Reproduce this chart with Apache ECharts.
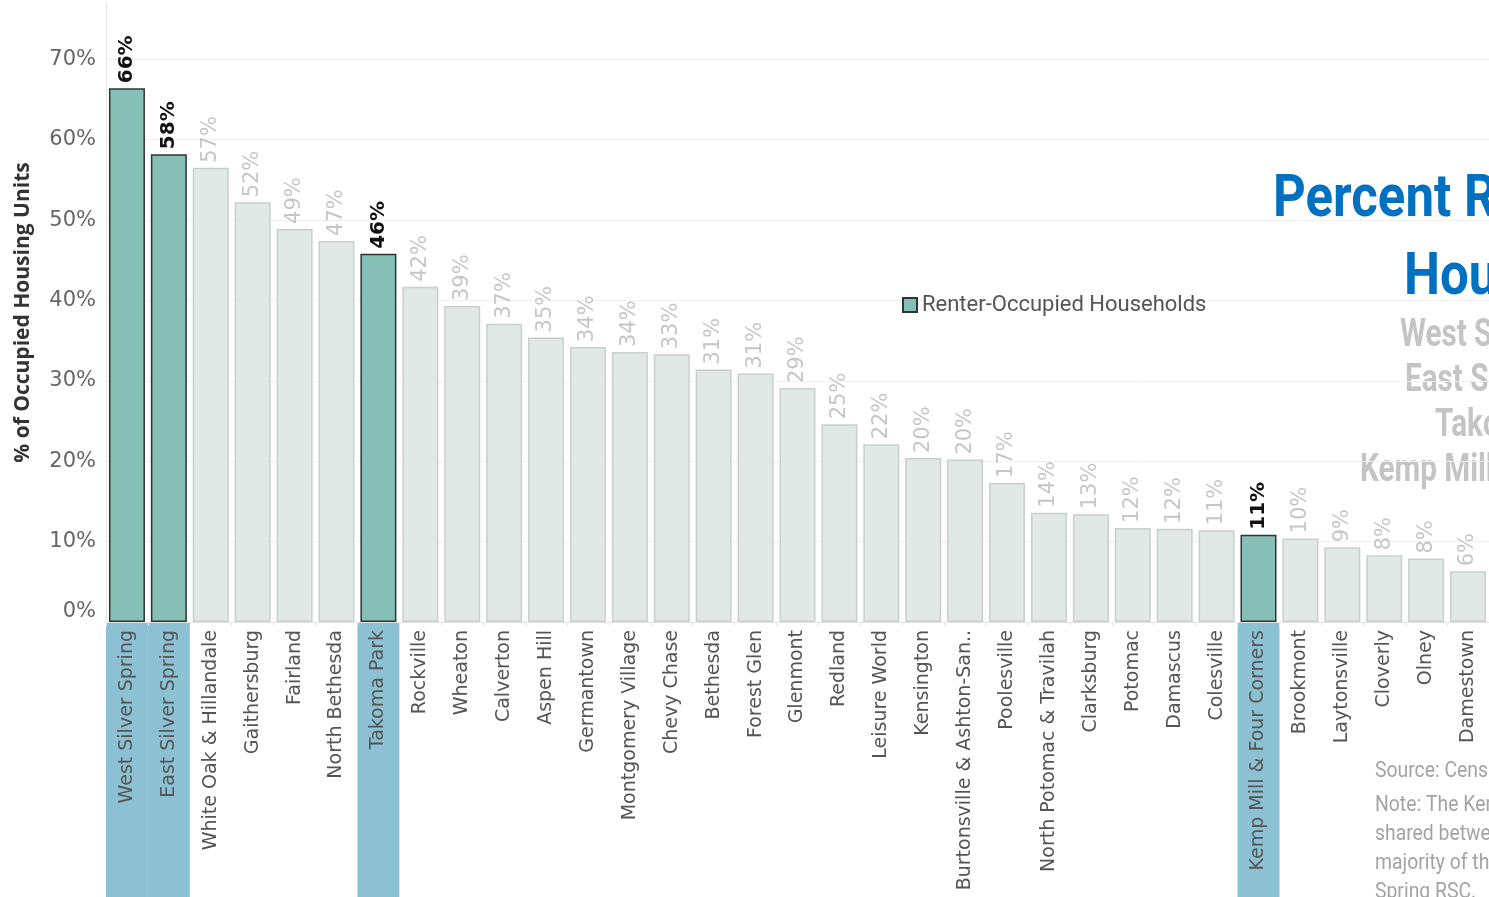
<!DOCTYPE html>
<html>
<head>
<meta charset="utf-8">
<title>Percent Renter-Occupied Households</title>
<script src="https://cdn.jsdelivr.net/npm/echarts@6/dist/echarts.min.js"></script>
<style>
  html, body { margin: 0; padding: 0; background: #fff; }
  #chart { width: 1489px; height: 897px; }
</style>
</head>
<body>
<div id="chart"></div>
<script>
// areas sorted by share of renter-occupied housing units
const areas = [
  "West Silver Spring", "East Silver Spring", "White Oak & Hillandale", "Gaithersburg",
  "Fairland", "North Bethesda", "Takoma Park", "Rockville", "Wheaton", "Calverton",
  "Aspen Hill", "Germantown", "Montgomery Village", "Chevy Chase", "Bethesda",
  "Forest Glen", "Glenmont", "Redland", "Leisure World", "Kensington",
  "Burtonsville & Ashton-San..", "Poolesville", "North Potomac & Travilah", "Clarksburg",
  "Potomac", "Damascus", "Colesville", "Kemp Mill & Four Corners", "Brookmont",
  "Laytonsville", "Cloverly", "Olney", "Damestown"
];
const renterPct = [
  66.4, 58.2, 56.5, 52.2, 48.9, 47.4, 45.8, 41.7, 39.3, 37.1,
  35.4, 34.2, 33.6, 33.3, 31.4, 30.9, 29.1, 24.6, 22.1, 20.4,
  20.2, 17.3, 13.6, 13.4, 11.7, 11.6, 11.4, 10.85, 10.4, 9.3,
  8.3, 7.9, 6.3
];
const highlighted = ["West Silver Spring", "East Silver Spring", "Takoma Park", "Kemp Mill & Four Corners"];

const titleLines = ["Percent Renter-Occupied", "Households"];
const subtitleLines = ["West Silver Spring: 66%", "East Silver Spring: 58%", "Takoma Park: 46%", "Kemp Mill & Four Corners: 11%"];
const noteLines = [
  "Source: Census ACS 5-Year Estimates",
  "Note: The Kemp Mill & Four Corners area is",
  "shared between regional service centers; the",
  "majority of the area lies within the Silver",
  "Spring RSC."
];

const sans = "'Open Sans', 'Noto Sans', sans-serif";
const wide = "'DejaVu Sans', sans-serif";

const chart = echarts.init(document.getElementById("chart"));

const barData = areas.map((a, i) => {
  const hi = highlighted.includes(a);
  return {
    value: renterPct[i],
    itemStyle: hi ? {} : { color: "#e0e9e6", borderColor: "#c9cfcd" },
    label: hi ? {} : { color: "#c6c6c6", fontWeight: "normal", fontSize: 21 }
  };
});
const bandData = areas.map(a => highlighted.includes(a) ? 1 : "-");

// right-hand text block (narrowed Roboto to mimic the condensed face)
const graphics = [];
const titleX = [1273, 1404];
const titleY = [171, 249];
titleLines.forEach((t, i) => graphics.push({
  type: "text", x: titleX[i], y: titleY[i], scaleX: 0.85, silent: true,
  style: { text: t, font: "bold 60px Roboto", fill: "#0070c0" }
}));
const subX = [1400, 1405, 1435, 1360];
subtitleLines.forEach((t, i) => graphics.push({
  type: "text", x: subX[i], y: 317 + i * 45, scaleX: 0.78, silent: true,
  style: { text: t, font: "bold 38px Roboto", fill: "#c4c4c4" }
}));
noteLines.forEach((t, i) => graphics.push({
  type: "text", x: 1375, y: (i === 0 ? 760 : 794 + (i - 1) * 29), scaleX: 0.88, silent: true,
  style: { text: t, font: "22px Roboto", fill: "#a3a3a3" }
}));

chart.setOption({
  animation: false,
  backgroundColor: "#fff",
  textStyle: { fontFamily: sans },
  legend: {
    data: ["Renter-Occupied Households"],
    left: 897, top: 289,
    icon: "rect", itemWidth: 14, itemHeight: 14, itemGap: 8,
    textStyle: { fontFamily: "Roboto", fontSize: 22, color: "#555" }
  },
  grid: [
    { left: 106, right: 0, top: 3, bottom: 275, containLabel: false },
    { left: 106, right: 0, top: 622, bottom: 0, containLabel: false }
  ],
  xAxis: [
    {
      type: "category", data: areas, gridIndex: 0, z: 5,
      axisLine: { show: true, lineStyle: { color: "#e4e4e4" } },
      axisTick: { show: true, length: 4, lineStyle: { color: "#e8e8e8" } },
      axisLabel: {
        rotate: 90, interval: 0, margin: 8,
        fontFamily: wide, fontSize: 19, color: "#555"
      }
    },
    { type: "category", data: areas, gridIndex: 1, show: false }
  ],
  yAxis: [
    {
      type: "value", gridIndex: 0, min: 0, max: 77, interval: 10,
      name: "% of Occupied Housing Units", nameLocation: "middle", nameGap: 72,
      nameTextStyle: { fontFamily: sans, fontSize: 21, fontWeight: "bold", color: "#333" },
      axisLine: { show: true, lineStyle: { color: "#e4e4e4" } },
      axisTick: { show: false },
      splitLine: { show: true, showMaxLine: false, lineStyle: { color: "#f0f0f0" } },
      axisLabel: {
        fontFamily: wide, fontSize: 21, color: "#666", margin: 10,
        showMaxLabel: false, verticalAlignMinLabel: "bottom",
        formatter: v => (v % 10 === 0 ? v + "%" : "")
      }
    },
    { type: "value", gridIndex: 1, min: 0, max: 1, show: false }
  ],
  series: [
    {
      name: "Renter-Occupied Households",
      type: "bar", xAxisIndex: 0, yAxisIndex: 0,
      barWidth: 36,
      data: barData,
      itemStyle: { color: "#86bfb6", borderColor: "#333", borderWidth: 1.5 },
      label: {
        show: true, position: "top", rotate: 90, distance: 5,
        align: "left", verticalAlign: "middle",
        fontFamily: wide, fontSize: 20, fontWeight: "bold", color: "#111",
        formatter: p => Math.round(p.value) + "%"
      }
    },
    {
      name: "highlight band",
      type: "bar", xAxisIndex: 1, yAxisIndex: 1,
      barCategoryGap: 0, silent: true, z: 1,
      data: bandData,
      itemStyle: { color: "#8bc1d2" }
    }
  ],
  graphic: graphics
});
</script>
</body>
</html>
